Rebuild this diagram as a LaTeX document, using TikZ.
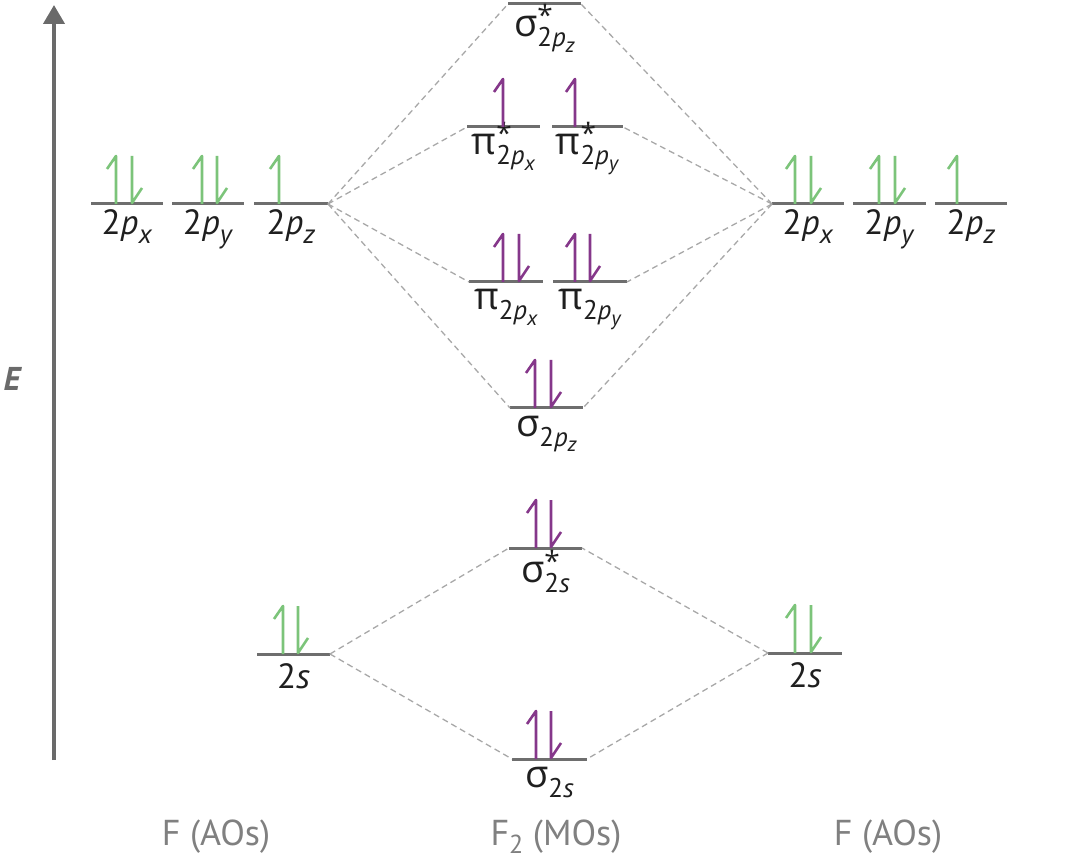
\documentclass[tikz,border=0pt]{standalone}
\usepackage{fontspec}
\setmainfont{PT Sans}
\newfontfamily\gr{Open Sans}
\usetikzlibrary{arrows.meta}
\definecolor{levc}{HTML}{6E6E6E}
\definecolor{dshc}{HTML}{A8A8A8}
\definecolor{grnc}{HTML}{7CC47A}
\definecolor{purc}{HTML}{85378A}
\definecolor{axgc}{HTML}{6A6A6A}
\definecolor{lblc}{HTML}{808080}
\tikzset{
  lev/.style={draw=levc,line width=3pt},
  conn/.style={draw=dshc,line width=1.3pt,dash pattern=on 6pt off 4pt},
  eg/.style={draw=grnc,line width=2.6pt,line join=round},
  ep/.style={draw=purc,line width=2.6pt,line join=round},
  lab/.style={anchor=base,inner sep=0pt,font=\fontsize{35}{38}\selectfont,text=black!88},
  foot/.style={anchor=base,inner sep=0pt,font=\fontsize{36}{40}\selectfont,text=lblc}
}
% level: name, x1, x2, y, label offset, label
\newcommand\lvl[6]{%
  \coordinate (#1-l) at (#2,#4);
  \coordinate (#1-r) at (#3,#4);
  \draw[lev] (#1-l) -- (#1-r);
  \node[lab] (#1-t) at ({(#2+#3)/2},{#4+#5}) {#6};
}
\newcommand\eup[3]{\draw[#1] (#2,#3) -- (#2,{#3-48}) -- ({#2-9},{#3-35});}
\newcommand\edn[3]{\draw[#1] (#2,{#3-48}) -- (#2,{#3-1}) -- ({#2+10},{#3-16});}
\newcommand\ao[1]{2\textit{p}\raisebox{-9pt}{\fontsize{27}{27}\selectfont\textit{#1}}}
\newcommand\mol[3]{{\gr\fontsize{38}{38}\selectfont #1}\makebox[0pt][l]{\raisebox{11pt}{\gr\fontsize{28}{28}\selectfont #2}}\raisebox{-10pt}{\fontsize{27}{27}\selectfont #3}}
\newcommand\pz[1]{2\textit{p}\raisebox{-6pt}{\fontsize{21}{21}\selectfont\textit{#1}}}
\begin{document}
\begin{tikzpicture}[x=1pt,y=-1pt]
\useasboundingbox (0,0) rectangle (1090,866);
% axis
\coordinate (axb) at (54,760);
\coordinate (axt) at (54,5);
\draw[axgc,line width=4pt,-{Triangle[width=21pt,length=19pt]}] (axb) -- (axt);
\node[font=\fontsize{33}{33}\selectfont\bfseries\itshape,text=axgc] (E) at (12,379) {E};
% left AOs
\lvl{L2px}{91}{163}{204}{31}{\ao{x}}
\lvl{L2py}{172}{244}{204}{31}{\ao{y}}
\lvl{L2pz}{254}{328}{204}{31}{\ao{z}}
\lvl{L2s}{257}{330}{654}{34}{2\textit{s}}
% right AOs
\lvl{R2px}{772}{844}{204}{31}{\ao{x}}
\lvl{R2py}{853}{926}{204}{31}{\ao{y}}
\lvl{R2pz}{935}{1007}{204}{31}{\ao{z}}
\lvl{R2s}{768}{842}{653}{34}{2\textit{s}}
% MOs
\lvl{sPs}{508}{581}{4}{33}{\mol{σ}{*}{\pz{z}}}
\lvl{pPx}{467}{540}{127}{28}{\mol{π}{*}{\pz{x}}}
\lvl{pPy}{552}{623}{127}{28}{\mol{π}{*}{\pz{y}}}
\lvl{pBx}{469}{543}{282}{28}{\mol{π}{}{\pz{x}}}
\lvl{pBy}{553}{627}{282}{28}{\mol{π}{}{\pz{y}}}
\lvl{sPb}{510}{583}{408}{28}{\mol{σ}{}{\pz{z}}}
\lvl{sSs}{509}{582}{548}{34}{\mol{σ}{*}{2\textit{s}}}
\lvl{sSb}{512}{587}{759}{28}{\mol{σ}{}{2\textit{s}}}
% connectors
\foreach \m in {sPs,pPx,pBx,sPb} \draw[conn] (L2pz-r) -- (\m-l);
\foreach \m in {sPs,pPy,pBy,sPb} \draw[conn] (R2px-l) -- (\m-r);
\foreach \m in {sSs,sSb} {\draw[conn] (L2s-r) -- (\m-l); \draw[conn] (R2s-l) -- (\m-r);}
% electrons, left
\eup{eg}{116}{204}\edn{eg}{132}{204}
\eup{eg}{202}{204}\edn{eg}{217}{204}
\eup{eg}{279}{204}
\eup{eg}{283}{654}\edn{eg}{298}{654}
% electrons, right
\eup{eg}{795}{204}\edn{eg}{811}{204}
\eup{eg}{879}{204}\edn{eg}{895}{204}
\eup{eg}{957}{204}
\eup{eg}{795}{653}\edn{eg}{811}{653}
% electrons, MOs
\eup{ep}{503}{127}
\eup{ep}{575}{127}
\eup{ep}{503}{282}\edn{ep}{519}{282}
\eup{ep}{575}{282}\edn{ep}{590}{282}
\eup{ep}{535}{408}\edn{ep}{551}{408}
\eup{ep}{536}{548}\edn{ep}{551}{548}
\eup{ep}{536}{759}\edn{ep}{551}{759}
% footer
\node[foot] (fL) at (216,845) {F (AOs)};
\node[foot] (fM) at (556,845) {F\raisebox{-8pt}{\fontsize{26}{26}\selectfont 2} (MOs)};
\node[foot] (fR) at (888,845) {F (AOs)};
\end{tikzpicture}
\end{document}
